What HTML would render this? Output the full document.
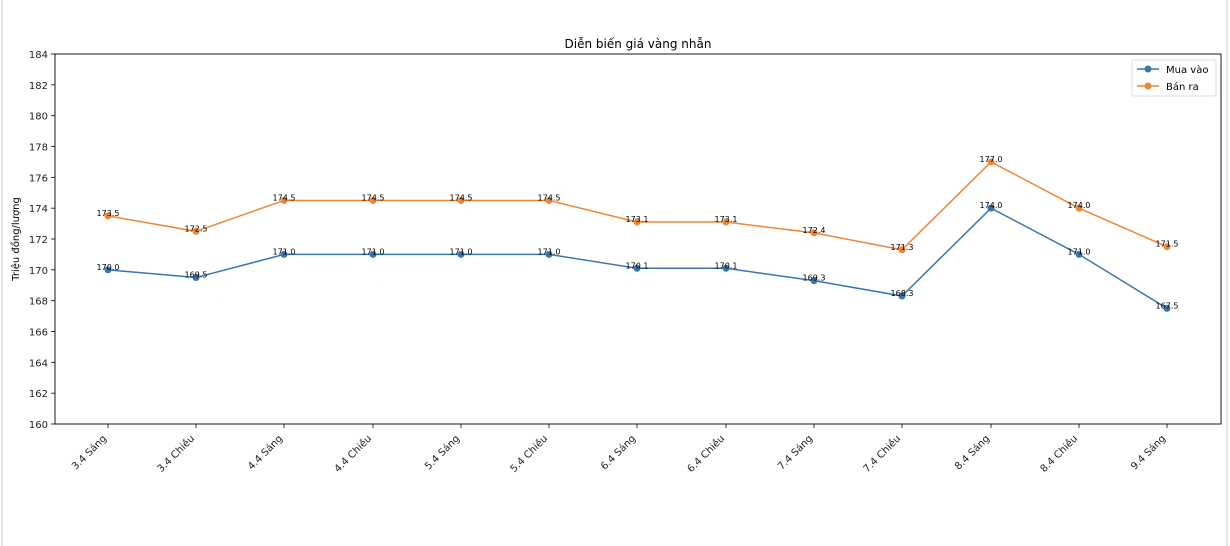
<!DOCTYPE html>
<html><head><meta charset="utf-8"><style>
html,body{margin:0;padding:0;background:#fff;}
body{width:1230px;height:546px;overflow:hidden;position:relative;}
.bl{position:absolute;left:1px;top:0;width:2px;height:546px;background:#e6e6e6;}
.br{position:absolute;left:1226px;top:0;width:2px;height:546px;background:#e6e6e6;}
svg{position:absolute;left:0;top:0;font-family:"DejaVu Sans","Liberation Sans",sans-serif;}
</style></head><body>
<div class="bl"></div><div class="br"></div>
<svg id="s" width="1230" height="546" xmlns="http://www.w3.org/2000/svg"></svg>
<script>
const L=55,R=1221,T=54,B=424;
const y=v=>B-(v-160)*(B-T)/24;
const xs=[108,196,284,373,461,549,637,726,814,902,991,1079,1167];
const labs=["3.4 Sáng","3.4 Chiều","4.4 Sáng","4.4 Chiều","5.4 Sáng","5.4 Chiều","6.4 Sáng","6.4 Chiều","7.4 Sáng","7.4 Chiều","8.4 Sáng","8.4 Chiều","9.4 Sáng"];
const buy=[170.0,169.5,171.0,171.0,171.0,171.0,170.1,170.1,169.3,168.3,174.0,171.0,167.5];
const sell=[173.5,172.5,174.5,174.5,174.5,174.5,173.1,173.1,172.4,171.3,177.0,174.0,171.5];
let s='';
s+=`<text x="638" y="48" font-size="12" text-anchor="middle" fill="#000">Diễn biến giá vàng nhẫn</text>`;
for(let v=160;v<=184;v+=2){const yy=y(v);s+=`<line x1="${L-4}" x2="${L}" y1="${yy}" y2="${yy}" stroke="#000" stroke-width="0.8"/><text x="${L-7}" y="${yy+4}" font-size="10" text-anchor="end" fill="#222">${v}</text>`;}
xs.forEach((x,i)=>{s+=`<line x1="${x}" x2="${x}" y1="${B}" y2="${B+4}" stroke="#000" stroke-width="0.8"/><text transform="translate(${x-1},${B+15}) rotate(-45)" font-size="10" text-anchor="end" fill="#222">${labs[i]}</text>`;});
s+=`<text transform="translate(19,239) rotate(-90)" font-size="10" text-anchor="middle" fill="#000">Triệu đồng/lượng</text>`;
function series(d,c){let p=d.map((v,i)=>`${xs[i]},${y(v)}`).join(' ');let o=`<polyline points="${p}" fill="none" stroke="${c}" stroke-width="1.5"/>`;
d.forEach((v,i)=>{o+=`<circle cx="${xs[i]}" cy="${y(v)}" r="3.5" fill="${c}"/>`;});
d.forEach((v,i)=>{o+=`<text x="${xs[i]}" y="${y(v)}" font-size="8" text-anchor="middle" fill="#000">${v.toFixed(1)}</text>`;});return o;}
s+=series(buy,'#3a75af')+series(sell,'#ef8636');
s+=`<rect x="${L}" y="${T}" width="${R-L}" height="${B-T}" fill="none" stroke="#000" stroke-width="0.9"/>`;
s+=`<rect x="1132" y="60" width="84" height="36" rx="2" fill="#fff" stroke="#ddd"/>`;
s+=`<line x1="1137" x2="1159" y1="69" y2="69" stroke="#3a75af" stroke-width="1.5"/><circle cx="1148" cy="69" r="3.5" fill="#3a75af"/><text x="1166" y="73" font-size="10" fill="#000">Mua vào</text>`;
s+=`<line x1="1137" x2="1159" y1="86" y2="86" stroke="#ef8636" stroke-width="1.5"/><circle cx="1148" cy="86" r="3.5" fill="#ef8636"/><text x="1166" y="90" font-size="10" fill="#000">Bán ra</text>`;
document.getElementById('s').innerHTML=s;
</script>
</body></html>
